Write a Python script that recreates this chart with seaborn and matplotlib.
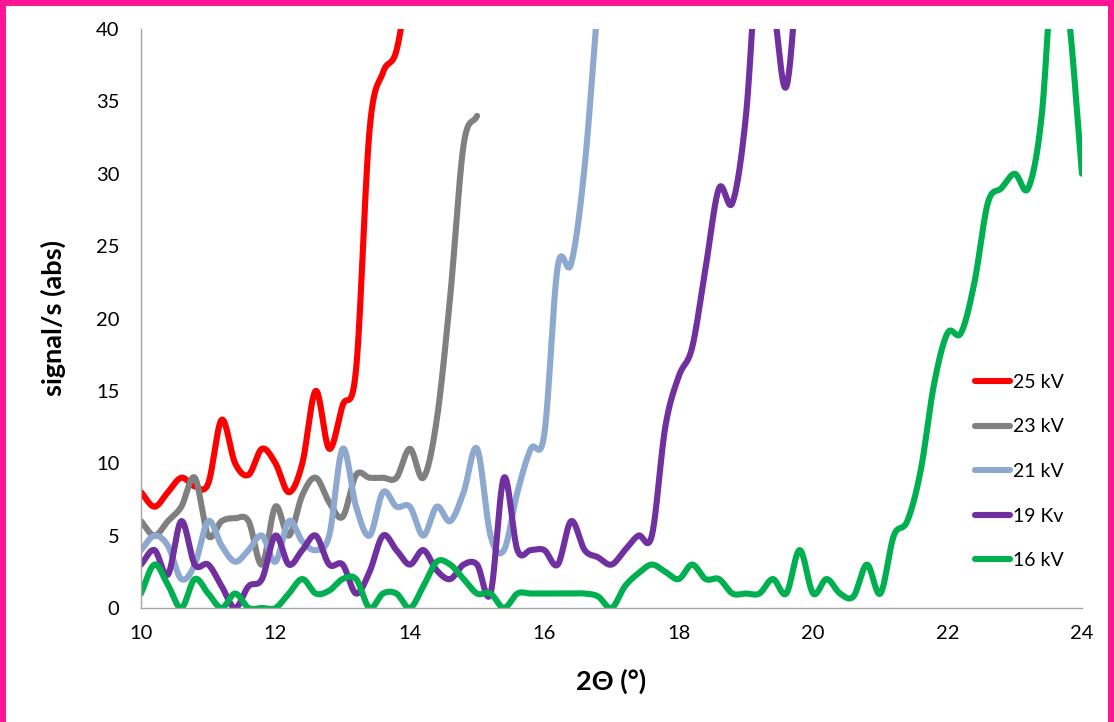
import numpy as np
import matplotlib
matplotlib.use("Agg")
import matplotlib.pyplot as plt
import seaborn as sns
from matplotlib.patches import Rectangle
from matplotlib.lines import Line2D

# ---------------- data ----------------
X_START = 10.0   # 2theta of first sample (deg)
X_STEP = 0.2     # sampling step (deg)

labels = ["25 kV", "23 kV", "21 kV", "19 Kv", "16 kV"]
colors = ["#FF0000", "#808080", "#8EA9CF", "#7030A0", "#00B050"]

v25 = [8, 7, 8, 9, 8.4, 8.6, 13, 10, 9.2, 11, 10, 8, 10, 15, 11, 14, 16.5, 33, 37, 38.5, 44]

v23 = [6, 5, 6, 7, 9, 5, 6, 6.2, 6, 3, 7, 5, 7.8, 9, 7.3, 6.3, 9.2, 9, 9, 9,
       11, 9, 13, 21.5, 32, 34]

v21 = [4, 5, 4.3, 2, 3, 6, 4.3, 3.2, 4, 5, 3.2, 6, 4.6, 4, 5, 11, 7, 5, 8, 7,
       7, 5, 7, 6, 8, 11, 5, 4, 8, 11, 12, 23.6, 23.8, 30.5, 42]

v19 = [3, 4, 2.3, 6, 3, 3, 1.5, 0, 1.5, 2, 5, 3, 4, 5, 3, 3, 1, 2.5, 5, 4,
       3, 4, 2.6, 2, 3, 3, 1, 9, 4, 4, 4, 3, 6, 4, 3.5, 3, 4, 5, 5, 12.5,
       16, 18, 23.5, 29, 28, 34, 46, 42, 36, 46]

v16 = [1, 3, 1.6, 0, 2, 1, 0, 1, 0, 0, 0, 1, 2, 1, 1.2, 2, 2, 0, 1, 1,
       0, 1.5, 3.2, 3, 2, 1, 1, 0, 1, 1, 1, 1, 1, 1, 0.8, 0, 1.5, 2.4, 3, 2.5,
       2, 3, 2, 2, 1, 1, 1, 2, 1, 4, 1, 2, 1, 0.8, 3, 1, 5, 6, 9.5, 15.5,
       19, 19, 22.5, 28, 29, 30, 29, 34, 46, 41, 30]

series = [v25, v23, v21, v19, v16]

x_ticks = [10, 12, 14, 16, 18, 20, 22, 24]
y_ticks = [0, 5, 10, 15, 20, 25, 30, 35, 40]


def smooth(x, y, n=24):
    """Catmull-Rom (Excel-style 'smoothed line') rendering of a series."""
    x = np.asarray(x, float)
    y = np.asarray(y, float)
    m = np.empty_like(y)
    m[1:-1] = (y[2:] - y[:-2]) / 2.0
    m[0] = y[1] - y[0]
    m[-1] = y[-1] - y[-2]
    xs, ys = [], []
    t = np.linspace(0, 1, n, endpoint=False)
    h00 = 2 * t**3 - 3 * t**2 + 1
    h10 = t**3 - 2 * t**2 + t
    h01 = -2 * t**3 + 3 * t**2
    h11 = t**3 - t**2
    for i in range(len(y) - 1):
        xs.append(x[i] + t * (x[i + 1] - x[i]))
        ys.append(h00 * y[i] + h10 * m[i] + h01 * y[i + 1] + h11 * m[i + 1])
    xs.append([x[-1]])
    ys.append([y[-1]])
    return np.concatenate(xs), np.concatenate(ys)


# ---------------- figure ----------------
sns.set_theme(style="white")
plt.rcParams['font.family'] = ['Lato', 'DejaVu Sans']

W, H = 1114, 722
fig = plt.figure(figsize=(W / 100, H / 100), dpi=100)
fig.patch.set_facecolor("white")
ax = fig.add_axes([141 / W, 1 - 608 / H, (1082 - 141) / W, (608 - 29) / H])

LW = 4.4
for lab, col, vals in zip(labels, colors, series):
    x = X_START + X_STEP * np.arange(len(vals))
    xs, ys = smooth(x, vals)
    sns.lineplot(x=xs, y=ys, ax=ax, color=col, linewidth=LW, sort=False,
                 estimator=None, solid_capstyle="round", solid_joinstyle="round",
                 legend=False)

ax.set_xlim(10, 24)
ax.set_ylim(0, 40)
ax.set_xticks(x_ticks)
ax.set_yticks(y_ticks)
ax.tick_params(axis="both", which="major", labelsize=14.5, labelcolor="black",
               color="#A6A6A6", length=4.5, width=1, direction="out")
ax.tick_params(axis="y", pad=11)
ax.tick_params(axis="x", pad=8)
for s in ["top", "right"]:
    ax.spines[s].set_visible(False)
for s in ["left", "bottom"]:
    ax.spines[s].set_color("#A6A6A6")
    ax.spines[s].set_linewidth(1.0)
ax.grid(False)

ax.set_xlabel("2Θ (°)", fontsize=19.5, fontweight="bold", color="black")
ax.set_ylabel("signal/s (abs)", fontsize=19.5, fontweight="bold", color="black")
ax.xaxis.set_label_coords(0.5, -0.105)
ax.yaxis.set_label_coords(-0.08, 0.5)

handles = [Line2D([0], [0], color=c, lw=LW, solid_capstyle="round") for c in colors]
leg = ax.legend(handles, labels, loc="center left",
                bbox_to_anchor=(975 / W, 1 - 471.5 / H), bbox_transform=fig.transFigure,
                frameon=False, fontsize=14, handlelength=1.8, handletextpad=0.15,
                labelspacing=1.42, borderpad=0, borderaxespad=0)
for t in leg.get_texts():
    t.set_color("black")

# pink outer border
fig.patches.append(Rectangle((0, -0.1), 1, 1.1, transform=fig.transFigure,
                             fill=False, edgecolor="#FF1493", linewidth=8.6,
                             zorder=10))

fig.savefig("out.png", dpi=100)
